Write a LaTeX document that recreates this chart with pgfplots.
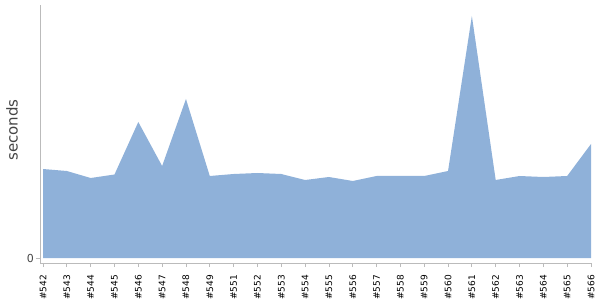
\documentclass[border=0pt]{standalone}
\usepackage{pgfplots}
\pgfplotsset{compat=1.18}
\usepackage{fontspec}
\setmainfont{DejaVu Sans}
\definecolor{areafill}{HTML}{8FB1D9}
\definecolor{axgray}{HTML}{BBBBBB}
\definecolor{lblgray}{HTML}{444444}
\begin{document}
\begin{tikzpicture}
\path[use as bounding box] (-40pt,-37pt) rectangle (560pt,263pt);
\begin{axis}[
  scale only axis,
  width=551pt, height=258pt,
  xmin=-0.126, xmax=23,
  ymin=-5, ymax=253,
  axis lines*=left,
  axis line style={axgray, line width=0.8pt},
  every tick/.style={axgray, line width=0.8pt},
  tick align=outside,
  major tick length=4pt,
  xtick={0,...,23},
  xticklabels={\#542,\#543,\#544,\#545,\#546,\#547,\#548,\#549,\#551,\#552,\#553,\#554,\#555,\#556,\#557,\#558,\#559,\#560,\#561,\#562,\#563,\#564,\#565,\#566},
  xticklabel style={rotate=90, anchor=east, font=\fontsize{9}{9}\selectfont, text=black, inner sep=0pt},
  xticklabel shift=8pt,
  ytick={0},
  yticklabel style={font=\fontsize{11}{11}\selectfont, text=lblgray, inner sep=1pt, xshift=-1pt},
  /pgf/number format/assume math mode=true,
  ylabel={seconds},
  ylabel style={at={(rel axis cs:0,0.515)}, anchor=center, yshift=28pt, font=\fontsize{15}{15}\selectfont, text=lblgray},
  clip=false,
]
\addplot[fill=areafill, draw=none] coordinates {
(0,89) (1,87) (2,80) (3,83.5) (4,136) (5,92) (6,159) (7,82) (8,84) (9,85)
(10,84) (11,78) (12,81) (13,77) (14,82) (15,82) (16,82) (17,87) (18,242) (19,78)
(20,82) (21,81) (22,82) (23,114)
} \closedcycle;
\end{axis}
\end{tikzpicture}
\end{document}
